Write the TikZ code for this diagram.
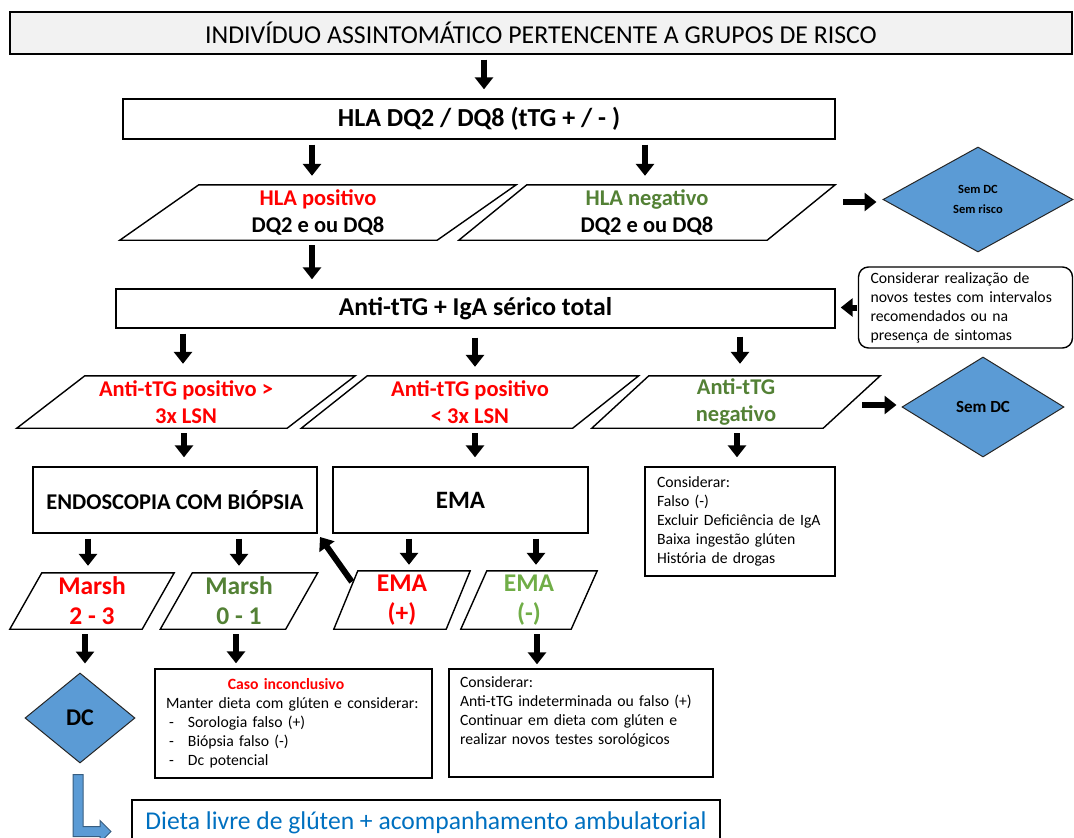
\documentclass[tikz,border=0pt]{standalone}
\usepackage{fontspec}
\setmainfont{Carlito}
\usetikzlibrary{arrows.meta, shapes.geometric, calc}
\definecolor{redtxt}{HTML}{FF0000}
\definecolor{grntxt}{HTML}{538135}
\definecolor{lgrtxt}{HTML}{70AD47}
\definecolor{bluedia}{HTML}{5B9BD5}
\definecolor{bluetxt}{HTML}{0070C0}
\definecolor{greybox}{HTML}{F2F2F2}

\tikzset{
  box/.style={draw=black, line width=1.4pt, inner sep=0pt},
  paratext/.style={inner sep=0pt, align=center, font=\bfseries\fontsize{22.5}{27}\selectfont},
  diam/.style={diamond, draw=black!85, line width=1pt, fill=bluedia, inner sep=0pt, align=center},
  note/.style={draw=black, line width=1.4pt, align=left, inner ysep=0pt, font=\fontsize{15.7}{19}\selectfont},
  arr/.style={line width=6pt, -{Triangle[length=12pt,width=18pt]}, shorten <=5pt, shorten >=9pt},
}

% parallelogram round a text node: name, half slant
\newcommand{\paral}[2]{\draw[line width=1.4pt] ([xshift=-#2]#1.south west) -- ([xshift=#2]#1.north west) -- ([xshift=#2]#1.north east) -- ([xshift=-#2]#1.south east) -- cycle;}

\begin{document}
\begin{tikzpicture}[x=1pt, y=-1pt]
\useasboundingbox (0,0) rectangle (1074,838);

% top rows
\node[box, fill=greybox, minimum width=1062pt, minimum height=42pt, font=\fontsize{25.8}{30}\selectfont] (top) at (541,33) {INDIVÍDUO ASSINTOMÁTICO PERTENCENTE A GRUPOS DE RISCO};
\node[box, minimum width=712pt, minimum height=40pt, font=\bfseries\fontsize{26}{30}\selectfont] (hla) at (479,119) {HLA DQ2 / DQ8 (tTG + / - )};

\node[paratext, minimum width=317pt, minimum height=55pt] (hlapos) at (318,212.5) {\textcolor{redtxt}{HLA positivo}\\DQ2 e ou DQ8};
\paral{hlapos}{39.5pt}
\node[paratext, minimum width=308pt, minimum height=55pt] (hlaneg) at (647,212.5) {\textcolor{grntxt}{HLA negativo}\\DQ2 e ou DQ8};
\paral{hlaneg}{34pt}
\node[diam, minimum width=190pt, minimum height=105pt, font=\bfseries\fontsize{12.5}{20}\selectfont] (semrisco) at (978,199.5) {Sem DC\\Sem risco};

\node[box, minimum width=719pt, minimum height=39pt, font=\bfseries\fontsize{25.7}{30}\selectfont] (antittg) at (475.5,308.5) {Anti-tTG + IgA sérico total};
\node[note, rounded corners=10pt, text width=190pt, inner xsep=12pt, minimum height=81pt] (revisar) at (965.5,307.5) {Considerar realização de\\novos testes com intervalos\\recomendados ou na\\presença de sintomas};

% anti-tTG results
\node[paratext, minimum width=270pt, minimum height=52pt, text=redtxt] (pos1) at (186,402) {Anti-tTG positivo >\\3x LSN};
\paral{pos1}{34pt}
\node[paratext, minimum width=271pt, minimum height=52pt, text=redtxt] (pos2) at (470,402) {Anti-tTG positivo\\< 3x LSN};
\paral{pos2}{33pt}
\node[paratext, minimum width=231pt, minimum height=52pt, text=grntxt] (neg) at (736,402) {Anti-tTG\\negativo};
\paral{neg}{28.5pt}
\node[diam, minimum width=162pt, minimum height=100pt, font=\bfseries\fontsize{17}{20}\selectfont] (semdc) at (983,407) {Sem DC};

\node[box, minimum width=284pt, minimum height=66pt, font=\bfseries\fontsize{22.5}{26}\selectfont] (endo) at (175,500) {ENDOSCOPIA COM BIÓPSIA};
\node[box, minimum width=255pt, minimum height=66pt, font=\bfseries\fontsize{25}{28}\selectfont] (ema) at (460.5,500) {EMA};
\node[note, text width=166pt, inner xsep=12pt, minimum height=109pt] (consid) at (740,521.5) {Considerar:\\Falso (-)\\Excluir Deficiência de IgA\\Baixa ingestão glúten\\História de drogas};

% marsh and EMA results
\node[paratext, minimum width=132pt, minimum height=56pt, text=redtxt, font=\bfseries\fontsize{25.5}{30}\selectfont] (marsh23) at (92,601) {Marsh\\2 - 3};
\paral{marsh23}{16pt}
\node[paratext, minimum width=125pt, minimum height=56pt, text=grntxt, font=\bfseries\fontsize{25.5}{30}\selectfont] (marsh01) at (239,601) {Marsh\\0 - 1};
\paral{marsh01}{16pt}
\node[paratext, minimum width=112pt, minimum height=58pt, text=redtxt, font=\bfseries\fontsize{25.5}{30}\selectfont] (emapos) at (402,600) {EMA\\(+)};
\paral{emapos}{12pt}
\node[paratext, minimum width=110pt, minimum height=58pt, text=lgrtxt, font=\bfseries\fontsize{25.5}{30}\selectfont] (emaneg) at (529,600) {EMA\\(-)};
\paral{emaneg}{13pt}

% bottom
\node[diam, minimum width=110pt, minimum height=90pt, font=\bfseries\fontsize{24}{28}\selectfont] (dc) at (80,718) {DC};
\node[note, text width=255pt, inner xsep=11pt, minimum height=109pt] (caso) at (293.5,723.5) {\makebox[\linewidth][c]{\hspace*{-15pt}\textcolor{redtxt}{\bfseries Caso inconclusivo}}\\Manter dieta com glúten e considerar:\\\makebox[22pt][l]{\hspace*{3pt}-}Sorologia falso (+)\\\makebox[22pt][l]{\hspace*{3pt}-}Biópsia falso (-)\\\makebox[22pt][l]{\hspace*{3pt}-}Dc potencial};
\node[note, text width=242pt, inner xsep=11pt, minimum height=108pt] (continuar) at (581,723) {Considerar:\\Anti-tTG indeterminada ou falso (+)\\Continuar em dieta com glúten e\\realizar novos testes sorológicos\\\strut};
\node[box, minimum width=588pt, minimum height=46pt, text=bluetxt, font=\fontsize{25.6}{29}\selectfont] (dieta) at (426,823) {Dieta livre de glúten + acompanhamento ambulatorial};

% arrows
\draw[arr] ([xshift=5pt]hla.north |- top.south) -- ([xshift=5pt]hla.north);
\draw[arr] ([xshift=-6pt]hlapos.north |- hla.south) -- ([xshift=-6pt]hlapos.north);
\draw[arr] ([xshift=-2pt]hlaneg.north |- hla.south) -- ([xshift=-2pt]hlaneg.north);
\draw[arr] ([xshift=-6pt]hlapos.south) -- ([xshift=-6pt]hlapos.south |- antittg.north);
\coordinate (c1) at ([xshift=37pt,yshift=10.5pt]hlaneg.east);
\draw[arr, shorten >=6pt] (c1) -- (c1 -| semrisco.west);
\draw[arr, shorten <=1pt, shorten >=5pt] (revisar.west) -- (revisar.west -| antittg.east);

\draw[arr, shorten >=12pt] ([xshift=-3pt]pos1.north |- antittg.south) -- ([xshift=-3pt]pos1.north);
\draw[arr, shorten <=9pt] ([xshift=5pt]pos2.north |- antittg.south) -- ([xshift=5pt]pos2.north);
\draw[arr, shorten <=8pt, shorten >=12pt] ([xshift=4pt]neg.north |- antittg.south) -- ([xshift=4pt]neg.north);
\coordinate (c2) at ([xshift=5.5pt,yshift=-3pt]neg.east);
\draw[arr, shorten >=5pt] (c2) -- (c2 -| semdc.west);

\draw[arr] ([xshift=-2pt]pos1.south) -- ([xshift=-2pt]pos1.south |- endo.north);
\draw[arr] ([xshift=5pt]pos2.south) -- ([xshift=5pt]pos2.south |- ema.north);
\draw[arr] ([xshift=1pt]neg.south) -- ([xshift=1pt]neg.south |- consid.north);

\draw[arr, shorten >=7pt] ([xshift=-4pt]marsh23.north |- endo.south) -- ([xshift=-4pt]marsh23.north);
\draw[arr, shorten >=7pt] (marsh01.north |- endo.south) -- (marsh01.north);
\draw[arr, shorten >=6pt] ([xshift=7pt]emapos.north |- ema.south) -- ([xshift=7pt]emapos.north);
\draw[arr, shorten >=6pt] ([xshift=7pt]emaneg.north |- ema.south) -- ([xshift=7pt]emaneg.north);
\draw[arr, shorten <=0pt, shorten >=4pt] ([xshift=6pt,yshift=-11pt]emapos.north west) -- (endo.south east);

\draw[arr] ([xshift=-7pt]marsh23.south) -- ([xshift=-7pt]marsh23.south |- dc.north);
\draw[arr, shorten >=5pt] ([xshift=-3pt]marsh01.south) -- ([xshift=-3pt]marsh01.south |- caso.north);
\draw[arr, shorten >=4pt] ([xshift=8pt]emaneg.south) -- ([xshift=8pt]emaneg.south |- continuar.north);

% blue bent arrow to the diet box
\draw[line width=1pt, draw=bluedia!60!black, fill=bluedia] ($(dc.south)+(-7,11)$) -- ++(10,0) -- ++(0,52) -- ++(17,0) -- ++(0,-6) -- ++(11,11) -- ++(-11,11) -- ++(0,-6) -- ++(-27,0) -- cycle;
\end{tikzpicture}
\end{document}
